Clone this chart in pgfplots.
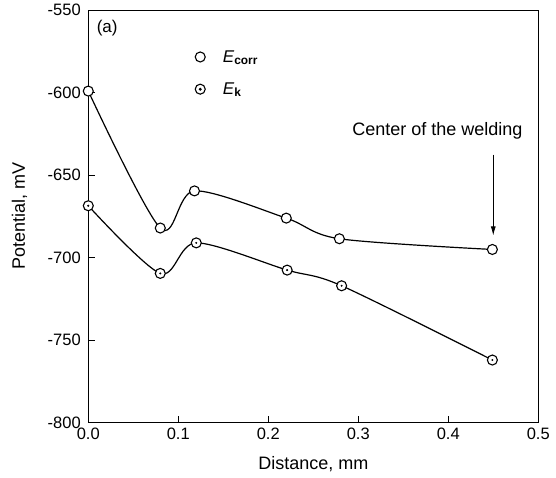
\documentclass[border=0pt]{standalone}
\usepackage{pgfplots}
\pgfplotsset{compat=1.18}
\usepackage{fontspec}
\setmainfont{Liberation Sans}
\usetikzlibrary{arrows.meta}
\pgfplotsset{
  ecleg/.style={legend image code/.code={\draw[black, line width=1.1pt, fill=white] (0.32cm,0cm) circle (5pt);}},
  ekleg/.style={legend image code/.code={\draw[black, line width=1.1pt, fill=white] (0.32cm,0cm) circle (5pt); \fill[black] (0.32cm,0cm) circle (0.8pt);}},
}
\begin{document}
\begin{tikzpicture}
\begin{axis}[
  scale only axis, width=450pt, height=412.5pt,
  xmin=0, xmax=0.5, ymin=-800, ymax=-550,
  xtick={0,0.1,0.2,0.3,0.4,0.5},
  xticklabels={0.0,0.1,0.2,0.3,0.4,0.5},
  ytick={-800,-750,-700,-650,-600,-550},
  yticklabels={-800,-750,-700,-650,-600,-550},
  tick align=inside, xtick pos=bottom, ytick pos=left,
  major tick length=7pt,
  axis line style={line width=1.1pt},
  every tick/.style={line width=1pt, black},
  tick label style={font=\fontsize{16.5}{18}\selectfont},
  yticklabel style={xshift=-4pt},
  xticklabel style={yshift=-2pt},
  xlabel={Distance, mm}, ylabel={Potential, mV},
  every axis x label/.style={at={(axis description cs:0.5,-0.1)}, anchor=center, font=\fontsize{18}{20}\selectfont},
  every axis y label/.style={at={(axis description cs:-0.153,0.5)}, rotate=90, anchor=center, font=\fontsize{18}{20}\selectfont},
  clip=false,
  legend style={draw=none, fill=none, at={(axis cs:0.118,-573)}, anchor=north west,
    font=\fontsize{17}{19}\selectfont, row sep=15pt, inner sep=0pt},
  legend cell align=left,
]
\addplot[black, line width=1.2pt, smooth, tension=0.5, mark=*, mark size=5pt,
  mark options={fill=white, line width=1.1pt}, ecleg]
  coordinates {(0,-599) (0.08,-682) (0.118,-659.5) (0.22,-676) (0.279,-688.5) (0.449,-695)};
\addlegendentry{\kern15pt\textit{E}\textsubscript{\textbf{corr}}}
\addplot[black, line width=1.2pt, smooth, tension=0.5, mark=*, mark size=5pt,
  mark options={fill=white, line width=1.1pt}, ekleg]
  coordinates {(0,-668.5) (0.08,-709.5) (0.12,-691) (0.221,-707.5) (0.2815,-717) (0.449,-762)};
\addlegendentry{\kern15pt\textit{E}\textsubscript{\textbf{k}}}
\addplot[only marks, mark=*, mark size=0.8pt, black, forget plot]
  coordinates {(0,-668.5) (0.08,-709.5) (0.12,-691) (0.221,-707.5) (0.2815,-717) (0.449,-762)};
\node[font=\fontsize{17}{19}\selectfont] at (axis cs:0.021,-561) {(a)};
\node[font=\fontsize{18}{20}\selectfont] at (axis cs:0.388,-623) {Center of the welding};
\draw[line width=0.8pt, -{Latex[length=9pt,width=5pt]}] (axis cs:0.45,-637.5) -- (axis cs:0.45,-686.5);
\path (axis cs:-0.0981,-833.5) rectangle (axis cs:0.5197,-543.8);
\end{axis}
\end{tikzpicture}
\end{document}
